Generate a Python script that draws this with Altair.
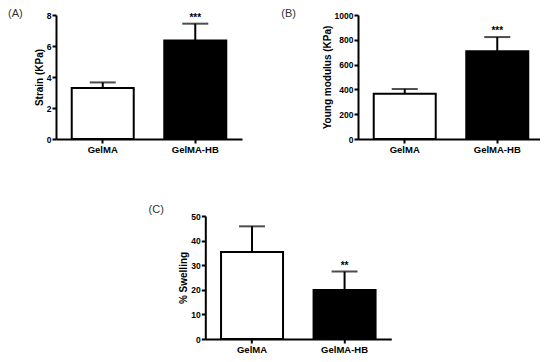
import altair as alt
import pandas as pd

groups = ["GelMA", "GelMA-HB"]
strain_mean = [3.29, 6.36]
strain_err = [0.36, 1.08]
young_mean = [365, 708]
young_err = [38, 114]
swell_mean = [35.4, 19.9]
swell_err = [10.4, 7.5]
strain_sig = ["", "***"]
young_sig = ["", "***"]
swell_sig = ["", "**"]
strain_ticks = [0, 2, 4, 6, 8]
young_ticks = [0, 200, 400, 600, 800, 1000]
swell_ticks = [0, 10, 20, 30, 40, 50]

FONT = "Liberation Sans"


def make_df(means, errs, sig):
    return pd.DataFrame({
        "group": groups,
        "mean": means,
        "upper": [m + e for m, e in zip(means, errs)],
        "sig": sig,
    })


def panel(df, ytitle, ticks, tag, tag_x, tag_y, height):
    x = alt.X("group:N", sort=groups, title=None,
              scale=alt.Scale(paddingInner=0.33, paddingOuter=0.17),
              axis=alt.Axis(labelAngle=0, labelFontSize=9.5))
    yscale = alt.Scale(domain=[ticks[0], ticks[-1]], nice=False)
    yaxis = alt.Axis(title=ytitle, values=ticks, format="d")
    base = alt.Chart(df)
    bars = base.mark_bar(stroke="black", strokeWidth=2).encode(
        x=x,
        y=alt.Y("mean:Q", scale=yscale, axis=yaxis),
        fill=alt.Fill("group:N", scale=alt.Scale(domain=groups, range=["white", "black"]), legend=None),
    )
    err = base.mark_rule(strokeWidth=2, color="black").encode(
        x=x,
        y=alt.Y("mean:Q", scale=yscale, axis=yaxis),
        y2="upper:Q",
    )
    cap = base.mark_tick(thickness=2, size=26, color="black").encode(
        x=x,
        y=alt.Y("upper:Q", scale=yscale, axis=yaxis),
    )
    stars = base.mark_text(fontSize=10, fontWeight="bold", font=FONT, color="black",
                           baseline="alphabetic", dy=-3).encode(
        x=x,
        y=alt.Y("upper:Q", scale=yscale, axis=yaxis),
        text="sig:N",
    )
    lab = alt.Chart(pd.DataFrame({"t": [tag]})).mark_text(
        align="left", baseline="middle", fontSize=11, font=FONT, color="#333333"
    ).encode(x=alt.value(tag_x), y=alt.value(tag_y), text="t:N")
    return alt.layer(bars, err, cap, stars, lab).properties(width=186, height=height)


pa = panel(make_df(strain_mean, strain_err, strain_sig), "Strain (KPa)", strain_ticks,
           "(A)", -48, -1, 124)
pb = panel(make_df(young_mean, young_err, young_sig), "Young modulus (KPa)", young_ticks,
           "(B)", -76.7, -1, 124)
pc = panel(make_df(swell_mean, swell_err, swell_sig), "% Swelling", swell_ticks,
           "(C)", -56.7, -6.5, 123)

spacer = alt.Chart(pd.DataFrame({"v": [0]})).mark_rule(opacity=0).encode(
    x=alt.value(0), x2=alt.value(50), y=alt.value(0)
).properties(width=50, height=1)

top = alt.hconcat(pa, pb, spacing=39)
bottom = alt.hconcat(spacer, pc, spacing=42.3)
chart = alt.vconcat(top, bottom, spacing=49).properties(
    padding={"left": 0, "top": 0, "right": -4, "bottom": 0}
).configure_view(
    stroke=None
).configure_axis(
    domainColor="black", domainWidth=2, tickColor="black", tickWidth=2, tickSize=4,
    labelColor="black", labelFont=FONT, labelFontWeight="bold", labelFontSize=8.5,
    labelPadding=1, titleColor="black", titleFont=FONT, titleFontWeight="bold",
    titleFontSize=10, titlePadding=2, grid=False,
)

chart.save("out.html", embed_options={"renderer": "svg", "actions": False})
